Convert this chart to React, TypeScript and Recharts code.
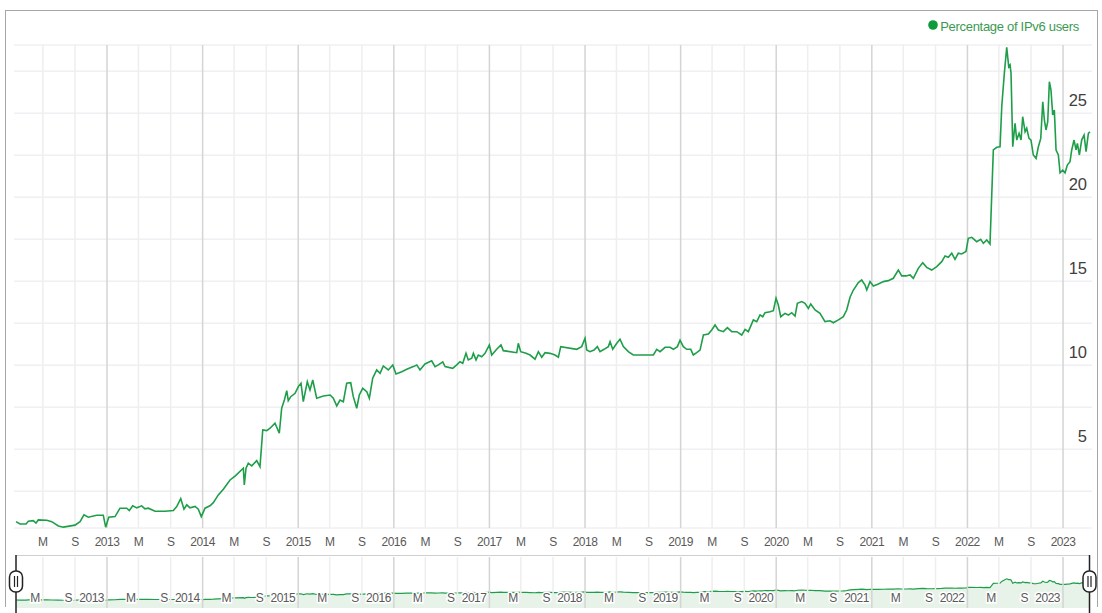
import {
  LineChart,
  Line,
  AreaChart,
  Area,
  XAxis,
  YAxis,
  CartesianGrid,
  ReferenceLine,
} from "recharts";

// weekly samples, as decimal years
const weeks = [
  2012.048, 2012.09, 2012.153, 2012.177, 2012.229, 2012.257, 2012.281, 2012.369, 2012.422, 2012.491,
  2012.543, 2012.665, 2012.718, 2012.759, 2012.804, 2012.892, 2012.961, 2012.986, 2013.018, 2013.084,
  2013.136, 2013.206, 2013.233, 2013.269, 2013.311, 2013.363, 2013.397, 2013.432, 2013.502, 2013.607,
  2013.694, 2013.729, 2013.771, 2013.805, 2013.834, 2013.868, 2013.921, 2013.955, 2013.986, 2014.025,
  2014.077, 2014.112, 2014.164, 2014.217, 2014.287, 2014.339, 2014.426, 2014.436, 2014.454, 2014.478,
  2014.514, 2014.566, 2014.6, 2014.629, 2014.671, 2014.705, 2014.757, 2014.802, 2014.827, 2014.855,
  2014.88, 2014.896, 2014.922, 2014.967, 2015.001, 2015.029, 2015.053, 2015.095, 2015.123, 2015.152,
  2015.193, 2015.263, 2015.333, 2015.367, 2015.403, 2015.437, 2015.472, 2015.507, 2015.549, 2015.576,
  2015.612, 2015.639, 2015.675, 2015.717, 2015.744, 2015.779, 2015.821, 2015.856, 2015.89, 2015.942,
  2015.989, 2016.023, 2016.083, 2016.135, 2016.204, 2016.24, 2016.274, 2016.326, 2016.396, 2016.431,
  2016.466, 2016.512, 2016.536, 2016.616, 2016.658, 2016.692, 2016.721, 2016.755, 2016.779, 2016.815,
  2016.832, 2016.86, 2016.884, 2016.919, 2016.954, 2016.999, 2017.024, 2017.076, 2017.121, 2017.145,
  2017.286, 2017.302, 2017.327, 2017.383, 2017.425, 2017.477, 2017.512, 2017.547, 2017.582, 2017.634,
  2017.686, 2017.721, 2017.746, 2017.913, 2017.965, 2018.0, 2018.018, 2018.052, 2018.094, 2018.129,
  2018.157, 2018.199, 2018.244, 2018.262, 2018.29, 2018.332, 2018.366, 2018.401, 2018.453, 2018.505,
  2018.715, 2018.75, 2018.785, 2018.837, 2018.889, 2018.924, 2018.966, 2018.994, 2019.028, 2019.064,
  2019.106, 2019.133, 2019.168, 2019.203, 2019.238, 2019.29, 2019.325, 2019.36, 2019.395, 2019.447,
  2019.489, 2019.535, 2019.587, 2019.639, 2019.674, 2019.708, 2019.761, 2019.796, 2019.831, 2019.859,
  2019.883, 2019.935, 2019.97, 2019.998, 2020.022, 2020.047, 2020.092, 2020.127, 2020.162, 2020.197,
  2020.221, 2020.267, 2020.301, 2020.336, 2020.361, 2020.406, 2020.458, 2020.51, 2020.563, 2020.597,
  2020.65, 2020.702, 2020.737, 2020.772, 2020.807, 2020.859, 2020.894, 2020.929, 2020.947, 2020.981,
  2021.016, 2021.068, 2021.121, 2021.172, 2021.225, 2021.277, 2021.313, 2021.358, 2021.4, 2021.434,
  2021.486, 2021.532, 2021.574, 2021.626, 2021.679, 2021.731, 2021.766, 2021.8, 2021.836, 2021.87,
  2021.905, 2021.94, 2021.985, 2022.009, 2022.045, 2022.097, 2022.139, 2022.167, 2022.202, 2022.236,
  2022.271, 2022.307, 2022.341, 2022.359, 2022.386, 2022.411, 2022.432, 2022.446, 2022.456, 2022.474,
  2022.498, 2022.516, 2022.54, 2022.561, 2022.578, 2022.603, 2022.62, 2022.644, 2022.665, 2022.689,
  2022.718, 2022.742, 2022.767, 2022.788, 2022.805, 2022.822, 2022.84, 2022.857, 2022.874, 2022.892,
  2022.909, 2022.927, 2022.951, 2022.969, 2022.997, 2023.021, 2023.045, 2023.073, 2023.091, 2023.115,
  2023.136, 2023.15, 2023.171, 2023.195, 2023.22, 2023.241, 2023.265, 2023.282,
];

// percentage of IPv6 users
const ipv6Users = [
  0.69, 0.55, 0.55, 0.71, 0.75, 0.6, 0.79, 0.77, 0.69, 0.43,
  0.36, 0.48, 0.69, 1.09, 0.95, 1.07, 1.07, 0.36, 0.95, 0.99,
  1.49, 1.49, 1.35, 1.63, 1.51, 1.63, 1.45, 1.49, 1.31, 1.31,
  1.35, 1.59, 2.06, 1.43, 1.69, 1.51, 1.59, 1.43, 0.99, 1.49,
  1.63, 1.82, 2.28, 2.62, 3.17, 3.4, 3.87, 2.88, 3.87, 4.17,
  4.01, 4.32, 3.96, 6.15, 6.11, 6.25, 6.55, 5.95, 7.44, 7.93,
  8.49, 7.89, 8.13, 8.33, 8.73, 8.93, 7.83, 9.02, 8.53, 9.12,
  8.04, 8.17, 8.23, 8.04, 7.58, 7.93, 7.83, 8.93, 8.96, 8.13,
  7.44, 8.23, 8.63, 8.43, 8.04, 9.23, 9.72, 9.52, 9.96, 9.72,
  10.02, 9.48, 9.62, 9.76, 9.92, 10.02, 9.72, 10.08, 10.27, 9.92,
  10.02, 10.2, 9.92, 9.82, 10.02, 10.21, 10.12, 10.71, 10.32, 10.42,
  10.71, 10.32, 10.61, 10.51, 10.71, 11.21, 10.61, 10.95, 11.21, 10.87,
  10.75, 11.31, 10.81, 10.71, 10.61, 10.36, 10.81, 10.48, 10.75, 10.71,
  10.61, 10.48, 11.11, 10.95, 11.11, 11.61, 10.91, 10.81, 10.91, 11.11,
  10.81, 10.95, 11.11, 11.4, 10.95, 11.31, 11.55, 11.11, 10.81, 10.61,
  10.61, 10.95, 10.81, 11.07, 11.07, 10.95, 11.11, 11.5, 11.11, 10.95,
  10.95, 10.61, 10.75, 10.9, 11.8, 11.86, 12.1, 12.4, 12.1, 12.0,
  12.24, 12.0, 12.0, 11.8, 12.14, 12.0, 12.7, 12.6, 13.0, 12.89,
  13.13, 13.19, 13.25, 13.99, 13.59, 12.89, 13.09, 12.99, 13.13, 12.93,
  13.69, 13.79, 13.69, 13.39, 13.65, 13.29, 13.09, 12.6, 12.65, 12.53,
  12.7, 12.89, 13.29, 14.05, 14.48, 14.92, 15.08, 14.78, 14.48, 14.98,
  14.72, 14.84, 14.98, 15.04, 15.18, 15.67, 15.32, 15.32, 15.38, 15.18,
  15.77, 16.11, 15.83, 15.67, 15.87, 16.17, 16.51, 16.43, 16.67, 16.31,
  16.67, 16.63, 16.77, 17.56, 17.62, 17.36, 17.5, 17.26, 17.46, 17.22,
  22.82, 22.98, 23.01, 25.39, 27.38, 28.93, 27.77, 27.88, 27.38, 23.01,
  24.4, 23.41, 23.81, 23.41, 24.8, 23.9, 24.11, 23.51, 23.41, 22.52,
  22.32, 23.01, 23.51, 25.69, 24.6, 24.01, 24.5, 26.88, 26.39, 24.9,
  25.2, 22.82, 22.52, 21.46, 21.62, 21.46, 21.92, 22.12, 22.82, 23.41,
  22.82, 23.21, 22.52, 23.41, 23.71, 22.72, 23.81, 23.9,
];

const yearTicks = [2013, 2014, 2015, 2016, 2017, 2018, 2019, 2020, 2021, 2022, 2023];
const monthYears = [2012, 2013, 2014, 2015, 2016, 2017, 2018, 2019, 2020, 2021, 2022];
const MAY = 120 / 365;
const SEP = 243 / 365;
const monthTicks = monthYears.flatMap((y) => [y + MAY, y + SEP]);
const allTicks = [...yearTicks, ...monthTicks].sort((a, b) => a - b);
const yTicks = [2.5, 5, 7.5, 10, 12.5, 15, 17.5, 20, 22.5, 25, 27.5];

const data = weeks.map((t, i) => ({ t, v: ipv6Users[i] }));

const X_DOMAIN = [2012.027, 2023.303];
const GREEN = "#1f9e4a";
const SANS = "Arial, 'Liberation Sans', sans-serif";

function tickLabel(t: number) {
  const frac = t - Math.floor(t);
  if (frac < 0.01) return String(Math.round(t));
  return frac < 0.5 ? "M" : "S";
}

const MainXTick = (props: any) => (
  <text
    x={props.x}
    y={546}
    textAnchor="middle"
    fontSize={12}
    letterSpacing={-0.5}
    fill="#595959"
    fontFamily={SANS}
  >
    {tickLabel(props.payload.value)}
  </text>
);

const NavXTick = (props: any) => (
  <text
    x={props.x - 3}
    y={47}
    textAnchor="end"
    fontSize={12}
    letterSpacing={-0.5}
    fill="#595959"
    fontFamily={SANS}
    stroke="#fff"
    strokeWidth={3}
    paintOrder="stroke"
  >
    {tickLabel(props.payload.value)}
  </text>
);

const RightYTick = (props: any) => {
  const v = props.payload.value;
  if (v % 5 !== 0) return null;
  return (
    <text x={1087} y={props.y - 7} textAnchor="end" fontSize={16.5} fill="#404040" fontFamily={SANS}>
      {v}
    </text>
  );
};

function gridLines() {
  return allTicks.map((t) => (
    <ReferenceLine
      key={t}
      x={t}
      stroke={yearTicks.includes(t) ? "#d4d4d4" : "#eeeeee"}
      strokeWidth={1.5}
    />
  ));
}

function Handle({ x }: { x: number }) {
  return (
    <g>
      <line x1={x} y1={555} x2={x} y2={613} stroke="#222" strokeWidth={1.5} />
      <rect x={x - 6.5} y={571} width={13} height={21} rx={6} fill="#fff" stroke="#222" strokeWidth={1.5} />
      <line x1={x - 1.5} y1={576} x2={x - 1.5} y2={587} stroke="#222" strokeWidth={1.2} />
      <line x1={x + 1.5} y1={576} x2={x + 1.5} y2={587} stroke="#222" strokeWidth={1.2} />
    </g>
  );
}

export default function App() {
  return (
    <div
      style={{
        position: "absolute",
        left: 0,
        top: 0,
        width: 1102,
        height: 613,
        background: "#fff",
        overflow: "hidden",
      }}
    >
      <div style={{ position: "absolute", left: 0, top: 0 }}>
        <LineChart width={1102} height={560} data={data} margin={{ top: 45, right: 9, bottom: 0, left: 14 }}>
          <CartesianGrid horizontal vertical={false} stroke="#f0f0f4" strokeWidth={1.5} />
          {gridLines()}
          <XAxis
            dataKey="t"
            type="number"
            domain={X_DOMAIN}
            ticks={allTicks}
            allowDataOverflow
            height={32}
            axisLine={false}
            tickLine={false}
            tick={MainXTick}
            interval={0}
          />
          <YAxis
            orientation="right"
            width={1}
            domain={[0.31, 29.07]}
            ticks={yTicks}
            allowDataOverflow
            axisLine={false}
            tickLine={false}
            tick={RightYTick}
            interval={0}
          />
          <Line
            type="linear"
            dataKey="v"
            stroke={GREEN}
            strokeWidth={1.6}
            dot={false}
            isAnimationActive={false}
          />
        </LineChart>
      </div>

      <div style={{ position: "absolute", left: 0, top: 555 }}>
        <AreaChart width={1102} height={53} data={data} margin={{ top: 1, right: 10, bottom: 0, left: 14 }}>
          {gridLines()}
          <XAxis
            dataKey="t"
            type="number"
            domain={X_DOMAIN}
            ticks={allTicks}
            allowDataOverflow
            orientation="top"
            height={1}
            axisLine={false}
            tickLine={false}
            tick={NavXTick}
            interval={0}
          />
          <YAxis hide domain={[-10, 58]} />
          <Area
            type="linear"
            dataKey="v"
            stroke={GREEN}
            strokeWidth={1.2}
            fill="#e7f3e9"
            fillOpacity={1}
            baseValue="dataMin"
            isAnimationActive={false}
          />
        </AreaChart>
      </div>

      <svg width={1102} height={613} style={{ position: "absolute", left: 0, top: 0, pointerEvents: "none" }}>
        <line x1={5} y1={10.5} x2={1098} y2={10.5} stroke="#a6a6a6" />
        <line x1={5.5} y1={10} x2={5.5} y2={607} stroke="#a6a6a6" />
        <line x1={1097.5} y1={10} x2={1097.5} y2={607} stroke="#a6a6a6" />
        <line x1={16} y1={555.5} x2={1090} y2={555.5} stroke="#cfcfcf" />
        <Handle x={16} />
        <Handle x={1089.5} />
        <circle cx={933} cy={25} r={4.8} fill="#0f9a3c" />
        <text
          x={1079}
          y={30.5}
          textAnchor="end"
          fontSize={13}
          letterSpacing={-0.3}
          fill="#3c9a50"
          fontFamily={SANS}
        >
          Percentage of IPv6 users
        </text>
      </svg>
    </div>
  );
}
